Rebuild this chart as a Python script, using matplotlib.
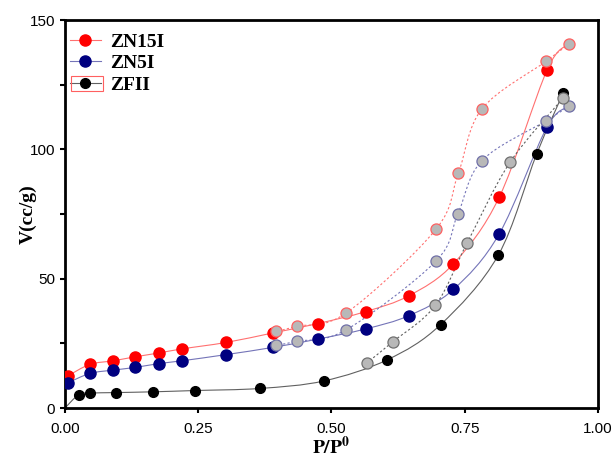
import numpy as np
import matplotlib
matplotlib.use('Agg')
import matplotlib.pyplot as plt
from matplotlib.path import Path
from matplotlib.patches import PathPatch, Rectangle
from matplotlib.lines import Line2D
from matplotlib.ticker import MultipleLocator, FormatStrFormatter

plt.rcParams['mathtext.fontset'] = 'stix'

# ZN15I (adsorption / desorption)
zn15_ads_x = [0.006, 0.047, 0.091, 0.131, 0.176, 0.22, 0.303, 0.391, 0.475, 0.564, 0.646, 0.729, 0.815, 0.905]
zn15_ads_y = [12.5, 16.9, 18.3, 19.8, 21.3, 22.9, 25.4, 29.1, 32.7, 37.3, 43.5, 55.8, 81.6, 130.9]
zn15_des_x = [0.946, 0.902, 0.782, 0.738, 0.696, 0.528, 0.435, 0.397]
zn15_des_y = [140.8, 134.0, 115.6, 90.7, 69.1, 36.8, 31.6, 29.7]

# ZN5I
zn5_ads_x = [0.005, 0.047, 0.091, 0.131, 0.176, 0.22, 0.303, 0.391, 0.475, 0.564, 0.646, 0.729, 0.815, 0.904]
zn5_ads_y = [9.7, 13.4, 14.7, 15.7, 17.2, 18.3, 20.7, 23.5, 26.7, 30.6, 35.8, 45.9, 67.4, 108.5]
zn5_des_x = [0.946, 0.902, 0.782, 0.737, 0.696, 0.528, 0.435, 0.397]
zn5_des_y = [116.7, 111.0, 95.6, 74.9, 56.8, 30.3, 25.8, 24.3]

# ZFII
zf_ads_x = [0.026, 0.047, 0.096, 0.166, 0.245, 0.366, 0.486, 0.605, 0.705, 0.813, 0.885, 0.935]
zf_ads_y = [5.2, 5.8, 6.0, 6.3, 6.8, 7.6, 10.5, 18.7, 32.3, 59.1, 98.2, 121.7]
zf_des_x = [0.935, 0.835, 0.755, 0.695, 0.615, 0.566]
zf_des_y = [119.9, 95.0, 64.0, 39.7, 25.6, 17.4]
# the ZFII fit line starts at the origin
zf_line_start_x = [0.0]
zf_line_start_y = [0.0]


def smooth(ax, x, y, **kw):
    # smooth curve through the points (catmull-rom as bezier)
    pts = np.column_stack([x, y]).astype(float)
    n = len(pts)
    verts = [pts[0]]
    codes = [Path.MOVETO]
    for i in range(n - 1):
        p0 = pts[i - 1] if i > 0 else pts[i]
        p1 = pts[i]
        p2 = pts[i + 1]
        p3 = pts[i + 2] if i + 2 < n else pts[i + 1]
        verts += [p1 + (p2 - p0) / 6, p2 - (p3 - p1) / 6, p2]
        codes += [Path.CURVE4] * 3
    ax.add_patch(PathPatch(Path(verts, codes), fill=False, **kw))


fig = plt.figure(figsize=(6.12, 4.57), dpi=100)
ax = fig.add_axes([0.106, 0.107, 0.871, 0.849])

series = [
    ([], [], zn15_ads_x, zn15_ads_y, zn15_des_x, zn15_des_y, '#ff0000', '#ff7070', '#ff6060', 8),
    ([], [], zn5_ads_x, zn5_ads_y, zn5_des_x, zn5_des_y, '#000080', '#7474b8', '#7070a8', 8),
    (zf_line_start_x, zf_line_start_y, zf_ads_x, zf_ads_y, zf_des_x, zf_des_y, '#000000', '#606060', '#707070', 7),
]

for sx, sy, ax_x, ax_y, dx, dy, mc, lc, ec, ms in series:
    smooth(ax, sx + ax_x + dx[:1], sy + ax_y + dy[:1], color=lc, lw=0.8, zorder=2)
    smooth(ax, dx, dy, color=lc, lw=0.8, linestyle=(0, (2, 2)), zorder=2)
for sx, sy, ax_x, ax_y, dx, dy, mc, lc, ec, ms in series:
    ax.plot(ax_x, ax_y, 'o', color=mc, ms=ms, mec=mc, zorder=3)
    ax.plot(dx, dy, 'o', mfc='#b8b8b8', mec=ec, mew=0.9, ms=8, zorder=4)

ax.set_xlim(0, 1)
ax.set_ylim(0, 150)
ax.xaxis.set_major_locator(MultipleLocator(0.25))
ax.xaxis.set_major_formatter(FormatStrFormatter('%.2f'))
ax.yaxis.set_major_locator(MultipleLocator(50))
ax.yaxis.set_minor_locator(MultipleLocator(25))
ax.tick_params(which='both', direction='out', length=3.5, width=1.5,
               labelsize=11, top=False, right=False)
ax.tick_params(axis='x', pad=6.5)
for lab in ax.get_xticklabels() + ax.get_yticklabels():
    lab.set_family('Liberation Sans')
for sp in ax.spines.values():
    sp.set_linewidth(2)

ax.set_xlabel(r'$\mathbf{P/P^{0}}$', fontsize=14)
ax.xaxis.set_label_coords(0.5, -0.071)
ax.set_ylabel('V(cc/g)', family='Liberation Serif', fontweight='bold', fontsize=14)
ax.yaxis.set_label_coords(-0.053, 0.5)

handles = [
    Line2D([], [], color='#ff7070', lw=0.8, marker='o', mfc='#ff0000', mec='#ff0000', ms=8),
    Line2D([], [], color='#7474b8', lw=0.8, marker='o', mfc='#000080', mec='#000080', ms=8),
    Line2D([], [], color='#606060', lw=0.8, marker='o', mfc='#000000', mec='#000000', ms=7),
]
ax.legend(handles, ['ZN15I', 'ZN5I', 'ZFII'], loc='upper left', frameon=False,
          prop={'family': 'Liberation Serif', 'weight': 'bold', 'size': 14},
          handlelength=1.6, handletextpad=0.5, labelspacing=0.2,
          borderaxespad=0.2, bbox_to_anchor=(-0.013, 0.997))

fig.add_artist(Rectangle((71 / 612, 1 - 91 / 457), 32 / 612, 15 / 457,
                         transform=fig.transFigure, fill=False, ec='#ff6060', lw=0.8))

fig.savefig('out.png', dpi=100)
